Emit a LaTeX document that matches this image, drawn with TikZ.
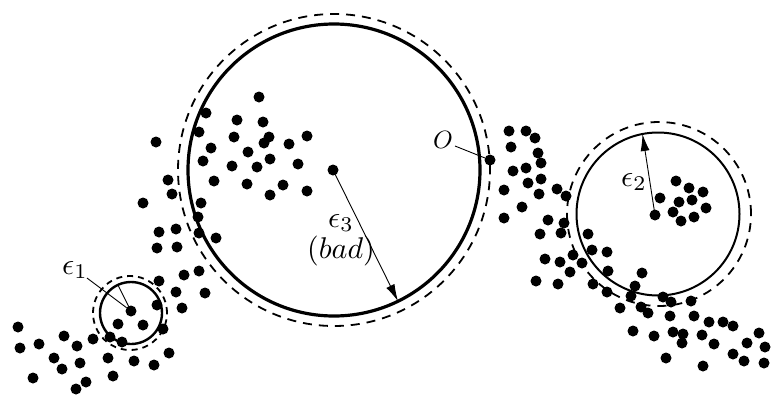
\documentclass[tikz,border=0pt]{standalone}
\usepackage{graphicx}
\usetikzlibrary{arrows.meta}
\begin{document}
\begin{tikzpicture}[x=1pt,y=-1pt,
  dot/.style={circle,fill=black,inner sep=0pt,outer sep=0pt,minimum size=11pt},
  ring/.style={circle,draw,inner sep=0pt,outer sep=0pt},
  dashring/.style={ring,dash pattern=on 9pt off 7pt,line width=1.8pt},
  lbl/.style={inner sep=0pt},
  leader/.style={line width=0.9pt},
  radarrow/.style={line width=0.9pt,-{Latex[length=17pt,width=9pt]}}]
\useasboundingbox (0,0) rectangle (779,402);
% circles
\node[ring,line width=3.2pt,minimum size=292pt] (C3) at (334,170) {};
\node[dashring,minimum size=312pt] (D3) at (334,170) {};
\node[ring,line width=2pt,minimum size=163pt] (C2) at (658,214) {};
\node[dashring,minimum size=184pt] (D2) at (659,214) {};
\node[ring,line width=2.4pt,minimum size=62pt] (C1) at (131,313) {};
\node[ring,line width=1.8pt,dash pattern=on 6pt off 5pt,minimum size=74pt] (D1) at (130,313) {};
% special dots
\node[dot] (c3) at (333,170) {};
\node[dot] (c2) at (655,215) {};
\node[dot] (c1) at (131,311) {};
\node[dot] (od) at (490,160) {};
% other dots
\foreach \p [count=\i] in {
 (18,327),(20,348),(39,344),(64,336),(77,346),(93,339),(110,337),(122,342),
 (54,358),(80,363),(108,358),(134,361),(154,365),(169,353),(62,369),(33,378),
 (86,382),(76,389),(113,376),(118,324),(143,325),(163,329),(157,305),
 (182,308),(205,293),(176,292),(159,281),(184,275),(199,271),(157,248),(177,247),
 (159,232),(176,229),(199,233),(216,238),(198,217),(143,203),(201,203),(168,180),
 (172,194),(214,181),(156,142),
 (259,97),(206,113),(237,120),(263,122),(199,132),(234,137),(269,137),(264,143),
 (307,136),(289,144),(211,148),(248,152),(203,161),(270,159),(232,166),(257,167),
 (298,164),(247,184),(283,185),(270,195),(307,191),
 (509,131),(526,131),(535,138),(511,147),(538,153),(541,163),(526,168),
 (513,171),(541,179),(528,183),(504,190),(539,194),(557,189),(566,196),(522,207),
 (504,218),(548,220),(564,223),(540,234),(561,233),(588,234),(592,250),(607,252),
 (573,255),(545,259),(560,262),(582,263),(570,272),(608,271),(536,281),(558,284),
 (593,284),(607,292),(635,286),(631,296),(620,308),(642,273),
 (676,181),(660,198),(689,188),(703,192),(679,202),(692,200),(706,208),(673,212),
 (681,221),(694,217),
 (663,297),(671,302),(691,301),(641,307),(648,313),(670,316),(694,316),(709,322),
 (723,322),(733,326),(633,331),(654,336),(673,332),(683,334),(682,343),(702,335),
 (714,344),(759,333),(747,343),(765,347),(733,354),(744,361),(764,363),(666,358),
 (703,366)}
 \node[dot] (d\i) at \p {};
% labels
\node[lbl] (e1) at (75,270) {\scalebox{3}{$\epsilon_1$}};
\node[lbl] (e2) at (634,182) {\scalebox{3}{$\epsilon_2$}};
\node[lbl] (e3) at (341,223) {\scalebox{3}{$\epsilon_3$}};
\node[lbl] (bad) at (341,251) {\scalebox{3}{$(bad)$}};
\node[lbl] (o) at (443,140) {\scalebox{2.5}{$O$}};
\coordinate (l1) at (87,278);
\coordinate (lo) at (455,146);
% connectors
\draw[leader] (l1) -- (c1);
\draw[leader] (c1.center) -- (C1.115);
\draw[leader] (lo) -- (od);
\draw[radarrow] (c3.center) -- (C3.-64);
\draw[radarrow] (c2.center) -- (C2.101);
\end{tikzpicture}
\end{document}
